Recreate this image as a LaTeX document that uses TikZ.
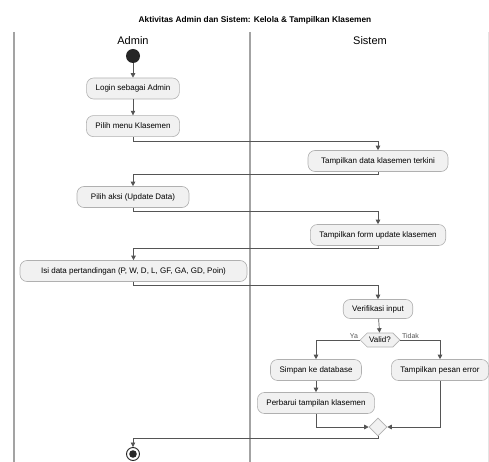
\documentclass[tikz,border=0pt]{standalone}
\usepackage{fontspec}
\setmainfont{Liberation Sans}
\usetikzlibrary{arrows.meta,positioning,shapes.geometric,shapes.symbols}
\definecolor{actfill}{HTML}{F1F1F1}
\definecolor{actline}{HTML}{B0B0B0}
\definecolor{flowgray}{HTML}{555555}
\definecolor{lanegray}{HTML}{A3A3A3}
\definecolor{lanelight}{HTML}{E4E4E4}

\begin{document}
\begin{tikzpicture}[
  x=1pt, y=-1pt,
  font=\fontsize{8}{9.5}\selectfont,
  action/.style={
    rounded corners=7pt,
    draw=actline,
    fill=actfill,
    line width=0.6pt,
    minimum height=21pt,
    inner xsep=9pt,
    inner ysep=2pt
  },
  decision/.style={
    signal, signal to=west and east,
    draw=actline,
    fill=actfill,
    line width=0.6pt,
    minimum height=14pt,
    inner xsep=2pt,
    inner ysep=1pt
  },
  merge/.style={
    diamond,
    draw=actline,
    fill=actfill,
    line width=0.6pt,
    minimum size=18pt,
    inner sep=0pt
  },
  startdot/.style={circle, fill=black!85, minimum size=14pt, inner sep=0pt},
  enddot/.style={circle, draw=black!85, line width=0.9pt, fill=white,
    minimum size=13pt, inner sep=0pt,
    path picture={\fill[black!85] (path picture bounding box.center) circle (3.8pt);}},
  arrow/.style={-{Triangle[length=4.5pt,width=4.5pt]}, flowgray, line width=0.7pt},
  lane/.style={lanegray, line width=1.6pt},
  lanehead/.style={font=\fontsize{11}{13}\selectfont},
  guard/.style={font=\fontsize{7}{8}\selectfont, inner sep=1.5pt}
]
\useasboundingbox (0,0) rectangle (489,462);

% lanes
\draw[lane] (14,32) -- (14,462);
\draw[lane] (250,32) -- (250,462);
\draw[lanelight, line width=1pt] (488,32) -- (488,462);

\node[font=\bfseries\fontsize{8.3}{10}\selectfont] (title) at (255,20)
  {Aktivitas Admin dan Sistem: Kelola \& Tampilkan Klasemen};
\node[lanehead] (admin) at (133,41) {Admin};
\node[lanehead] (sistem) at (370,41) {Sistem};

\node[startdot] (start) at (133,56) {};
\node[action] (login) at (133,88.5) {Login sebagai Admin};
\node[action, below=16pt of login] (menu) {Pilih menu Klasemen};
\node[action, minimum width=140pt] (tampil) at (378,161) {Tampilkan data klasemen terkini};
\node[action, minimum width=112pt] (aksi) at (133,197) {Pilih aksi (Update Data)};
\node[action] (form) at (378,235) {Tampilkan form update klasemen};
\node[action, minimum width=227pt] (isi) at (133.5,271)
  {Isi data pertandingan (P, W, D, L, GF, GA, GD, Poin)};
\node[action, minimum height=19pt] (verif) at (378,309) {Verifikasi input};
\node[decision] (valid) at (380,340) {Valid?};
\node[action] (simpan) at (316,370) {Simpan ke database};
\node[action] (error) at (440,370) {Tampilkan pesan error};
\node[action] (perbarui) at (316,403) {Perbarui tampilan klasemen};
\node[merge] (join) at (378,427) {};
\node[enddot] (end) at (133,454) {};

\draw[arrow] (start) -- (login);
\draw[arrow] (login) -- (menu);
\draw[arrow] (menu.south) -- ++(0,4) -| (tampil.north);
\draw[arrow] (tampil.south) -- ++(0,3) -| (aksi.north);
\draw[arrow] (aksi.south) -- ++(0,4) -| (form.north);
\draw[arrow] (form.south) -- ++(0,3) -| (isi.north);
\draw[arrow] (isi.south) -- ++(0,4) -| (verif.north);
\draw[arrow] (verif) -- (valid);
\draw[arrow] (valid.west) -| node[pos=0, above left, guard]{Ya} (simpan.north);
\draw[arrow] (valid.east) -| node[pos=0, above right, guard]{Tidak} (error.north);
\draw[arrow] (simpan) -- (perbarui);
\draw[arrow] (perbarui.south) |- (join.west);
\draw[arrow] (error.south) |- (join.east);
\draw[arrow] (join.south) -- ++(0,2) -| (end.north);

\end{tikzpicture}
\end{document}
